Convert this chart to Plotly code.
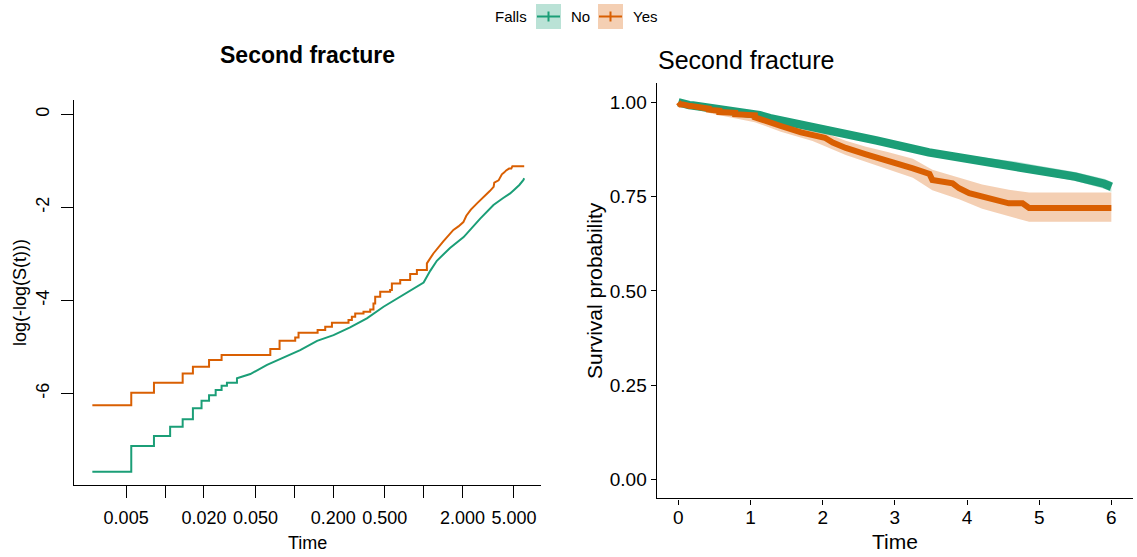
import numpy as np
import plotly.graph_objects as go

# ---- Kaplan-Meier estimates, second fracture, by falls history ----
# Early part: daily event steps (time in years)
no_step_t = [0.00274, 0.00548, 0.00821, 0.01095, 0.01369, 0.01643, 0.01916, 0.02190, 0.02464, 0.02738, 0.03012]
no_step_s = [0.99954, 0.99920, 0.99901, 0.99879, 0.99858, 0.99820, 0.99789, 0.99762, 0.99734, 0.99709, 0.99688]
# Later part: events are dense, curve sampled
no_t = [0.036, 0.0457, 0.0615, 0.0826, 0.111, 0.150, 0.201, 0.270, 0.364, 0.490, 0.659, 0.887,
        1.000, 1.125, 1.266, 1.600, 2.040, 2.740, 3.470, 4.100, 4.670, 5.000, 5.500, 5.900, 6.000]
no_s = [0.99658, 0.99625, 0.99544, 0.99463, 0.99373, 0.99235, 0.99135, 0.98980, 0.98763, 0.98415, 0.98040, 0.97576,
        0.97350, 0.96600, 0.95800, 0.94500, 0.93100, 0.89900, 0.86700, 0.84800, 0.83300, 0.82100, 0.80300, 0.78400, 0.77600]
# 95% confidence band
no_ci_t = [0, 0.2, 0.5, 1.0, 1.6, 2.04, 2.74, 3.47, 4.10, 4.67, 5.0, 5.5, 5.9, 6.0]
no_ci_lo = [1.000, 0.989, 0.981, 0.969, 0.940, 0.925, 0.892, 0.859, 0.839, 0.823, 0.810, 0.791, 0.771, 0.763]
no_ci_hi = [1.000, 0.993, 0.987, 0.978, 0.950, 0.937, 0.906, 0.875, 0.857, 0.843, 0.832, 0.815, 0.797, 0.789]

yes_step_t = [0.00274, 0.00548, 0.00821, 0.01369, 0.01643, 0.02190, 0.02738, 0.06520, 0.07690, 0.10160,
              0.10780, 0.15140, 0.17340, 0.19540, 0.26250, 0.27860, 0.29570, 0.34280, 0.38640, 0.40930,
              0.42220, 0.46170, 0.55080, 0.56830, 0.65920, 0.78700, 0.88700]
yes_step_s = [0.99808, 0.99749, 0.99689, 0.99620, 0.99562, 0.99494, 0.99437, 0.99359, 0.99235, 0.99177,
              0.99092, 0.99038, 0.98966, 0.98874, 0.98808, 0.98721, 0.98625, 0.98576, 0.98502, 0.98298,
              0.98040, 0.97820, 0.97739, 0.97394, 0.97204, 0.96826, 0.96546]
yes_t = [1.06, 1.19, 1.42, 1.70, 1.86, 2.03, 2.14, 2.32, 2.60, 2.90, 3.11, 3.25, 3.48, 3.52,
         3.80, 3.89, 4.03, 4.21, 4.35, 4.58, 4.77, 4.86, 6.00]
yes_s = [0.9602, 0.951, 0.937, 0.920, 0.914, 0.906, 0.893, 0.879, 0.862, 0.846, 0.834, 0.825, 0.810, 0.794,
         0.785, 0.772, 0.759, 0.750, 0.741, 0.732, 0.732, 0.720, 0.720]
yes_ci_t = [0, 0.20, 0.50, 0.89, 1.06, 1.42, 1.86, 2.32, 2.60, 2.90, 3.25, 3.52, 3.89, 4.21, 4.58, 4.86, 6.00]
yes_ci_lo = [1.000, 0.983, 0.968, 0.954, 0.947, 0.922, 0.897, 0.860, 0.842, 0.824, 0.800, 0.767, 0.743, 0.718, 0.698, 0.683, 0.683]
yes_ci_hi = [1.000, 0.995, 0.988, 0.977, 0.973, 0.952, 0.931, 0.898, 0.882, 0.868, 0.850, 0.821, 0.801, 0.782, 0.768, 0.761, 0.761]

groups = ["No", "Yes"]
colors = {"No": "#1B9E77", "Yes": "#D95F02"}
fills = {"No": "rgba(27,158,119,0.3)", "Yes": "rgba(217,95,2,0.3)"}

left_ticks = [0.005, 0.01, 0.02, 0.05, 0.1, 0.2, 0.5, 1, 2, 5]
left_ticktext = ["0.005", "", "0.020", "0.050", "", "0.200", "0.500", "", "2.000", "5.000"]
right_yticks = [0, 0.25, 0.5, 0.75, 1.0]
right_yticktext = ["0.00", "0.25", "0.50", "0.75", "1.00"]
right_xticks = [0, 1, 2, 3, 4, 5, 6]

W, H = 1137, 557
FONT = "Liberation Sans, Arial, Helvetica, sans-serif"


def fx(px):
    return px / W


def fy(py):
    return 1 - py / H


def km_path(step_t, step_s, dense_t, dense_s, start=None):
    """Step function through the daily events, then the densely sampled tail."""
    xs, ys = [], []
    prev = None
    if start is not None:
        xs.append(start[0]); ys.append(start[1]); prev = start[1]
    for t, s in zip(step_t, step_s):
        if prev is not None:
            xs.append(t); ys.append(prev)
        xs.append(t); ys.append(s)
        prev = s
    xs.append(dense_t[0]); ys.append(prev)
    xs.extend(dense_t); ys.extend(dense_s)
    return np.array(xs), np.array(ys)


data = {
    "No": (no_step_t, no_step_s, no_t, no_s, no_ci_t, no_ci_lo, no_ci_hi),
    "Yes": (yes_step_t, yes_step_s, yes_t, yes_s, yes_ci_t, yes_ci_lo, yes_ci_hi),
}
line_w_right = {"No": 8.5, "Yes": 6}

fig = go.Figure()

# Left panel: complementary log-log curves against log time
for g in groups:
    st, ss, dt, ds, *_ = data[g]
    x, s = km_path(st, ss, dt, ds)
    fig.add_trace(go.Scatter(x=x, y=np.log(-np.log(s)), mode="lines",
                             line=dict(color=colors[g], width=2),
                             xaxis="x", yaxis="y", hoverinfo="skip"))

# Right panel: confidence bands, then survival curves
for g in groups:
    *_, ct, lo, hi = data[g]
    fig.add_trace(go.Scatter(x=ct, y=lo, mode="lines", line=dict(width=0, color=fills[g]),
                             xaxis="x2", yaxis="y2", hoverinfo="skip"))
    fig.add_trace(go.Scatter(x=ct, y=hi, mode="lines", line=dict(width=0, color=fills[g]),
                             fill="tonexty", fillcolor=fills[g],
                             xaxis="x2", yaxis="y2", hoverinfo="skip"))
for g in groups:
    st, ss, dt, ds, *_ = data[g]
    x, s = km_path(st, ss, dt, ds, start=(0.0, 1.0))
    fig.add_trace(go.Scatter(x=x, y=s, mode="lines",
                             line=dict(color=colors[g], width=line_w_right[g]),
                             xaxis="x2", yaxis="y2", hoverinfo="skip"))

axis_common = dict(showgrid=False, zeroline=False, showline=True, linecolor="black",
                   ticks="outside", tickcolor="black")

fig.update_layout(
    width=W, height=H, margin=dict(l=0, r=0, t=0, b=0),
    paper_bgcolor="white", plot_bgcolor="white", showlegend=False,
    font=dict(family=FONT, color="black"),
    xaxis=dict(domain=[fx(73.5), fx(541)], type="log", range=[-2.708, 0.908],
               tickvals=left_ticks, ticktext=left_ticktext, ticklen=12, tickwidth=1,
               linewidth=1, tickfont=dict(size=18), ticklabelstandoff=4, anchor="y",
               **axis_common),
    yaxis=dict(domain=[fy(485), fy(100)], range=[-7.97, 0.31],
               tickvals=[0, -2, -4, -6], ticktext=["0", "-2", "-4", "-6"], tickangle=-90,
               ticklen=12, tickwidth=1, linewidth=1, tickfont=dict(size=18),
               ticklabelstandoff=4, anchor="x", **axis_common),
    xaxis2=dict(domain=[fx(656.7), fx(1133)], range=[-0.3, 6.3], tickvals=right_xticks,
                ticklen=5, tickwidth=1.3, linewidth=1.3, tickfont=dict(size=19),
                ticklabelstandoff=-3, anchor="y2", **axis_common),
    yaxis2=dict(domain=[fy(498.4), fy(83.4)], range=[-0.05, 1.05], tickvals=right_yticks,
                ticktext=right_yticktext, ticklen=5, tickwidth=1.3, linewidth=1.3,
                tickfont=dict(size=19), anchor="x2", **axis_common),
)

ann = [
    dict(text="<b>Second fracture</b>", x=fx(307), y=fy(55), font=dict(size=23),
         xanchor="center", yanchor="middle"),
    dict(text="Time", x=fx(307), y=fy(543), font=dict(size=18), xanchor="center", yanchor="middle"),
    dict(text="log(-log(S(t)))", x=fx(20), y=fy(293), font=dict(size=18), textangle=-90,
         xanchor="center", yanchor="middle"),
    dict(text="Second fracture", x=fx(656), y=fy(60), font=dict(size=25),
         xanchor="left", yanchor="middle"),
    dict(text="Time", x=fx(895), y=fy(541), font=dict(size=21), xanchor="center", yanchor="middle"),
    dict(text="Survival probability", x=fx(594), y=fy(291), font=dict(size=21), textangle=-90,
         xanchor="center", yanchor="middle"),
    # legend texts
    dict(text="Falls", x=fx(511), y=fy(17), font=dict(size=15), xanchor="center", yanchor="middle"),
    dict(text="No", x=fx(580), y=fy(17), font=dict(size=15), xanchor="center", yanchor="middle"),
    dict(text="Yes", x=fx(644.5), y=fy(17), font=dict(size=15), xanchor="center", yanchor="middle"),
]
for a in ann:
    a.update(xref="paper", yref="paper", showarrow=False)
fig.update_layout(annotations=ann)

# Legend keys: shaded box with line and censor cross
shapes = []
for g, x0 in (("No", 536), ("Yes", 598)):
    shapes.append(dict(type="rect", xref="paper", yref="paper", x0=fx(x0), x1=fx(x0 + 25),
                       y0=fy(29), y1=fy(4), fillcolor=fills[g], line=dict(width=0)))
    shapes.append(dict(type="line", xref="paper", yref="paper", x0=fx(x0 + 1), x1=fx(x0 + 24),
                       y0=fy(16.5), y1=fy(16.5), line=dict(color=colors[g], width=2)))
    shapes.append(dict(type="line", xref="paper", yref="paper", x0=fx(x0 + 12.5), x1=fx(x0 + 12.5),
                       y0=fy(11.5), y1=fy(21.5), line=dict(color=colors[g], width=2)))
fig.update_layout(shapes=shapes)

fig.write_html("out.html")
